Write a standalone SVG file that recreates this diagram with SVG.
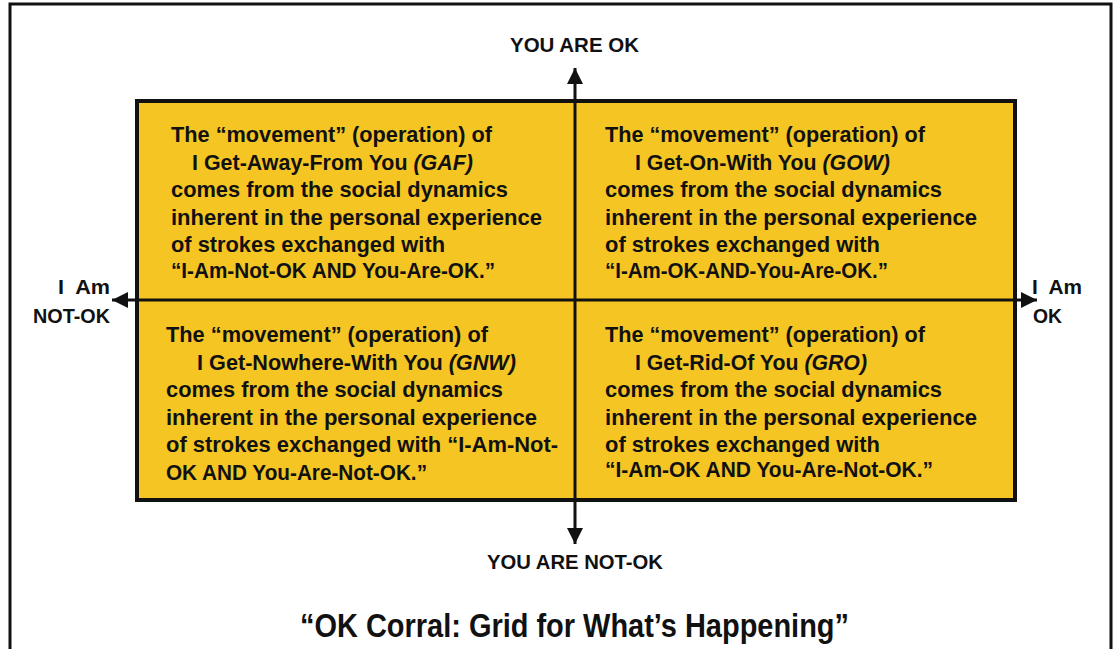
<svg xmlns="http://www.w3.org/2000/svg" width="1114" height="649" viewBox="0 0 1114 649">
<defs>
<style>
.t{font-family:"Liberation Sans Narrow","Liberation Sans",Arial,sans-serif;font-weight:bold;font-size:22px;fill:#111}
.ax{font-family:"Liberation Sans Narrow","Liberation Sans",Arial,sans-serif;font-weight:bold;font-size:21px;fill:#111}
.ti{font-family:"Liberation Sans Narrow","Liberation Sans",Arial,sans-serif;font-weight:bold;font-size:34px;fill:#111}
.axis{stroke:#111;stroke-width:3;fill:none}
</style>
<marker id="ah" viewBox="0 0 16 16" refX="16" refY="8" markerWidth="16" markerHeight="16" markerUnits="userSpaceOnUse" orient="auto-start-reverse">
<path d="M0,0 L16,8 L0,16 Z" fill="#111"/>
</marker>
</defs>
<rect x="0" y="0" width="1114" height="649" fill="#fff"/>
<rect id="frame" x="10" y="4" width="1101" height="680" fill="none" stroke="#111" stroke-width="3"/>
<rect id="grid" x="137" y="101" width="878" height="399" fill="#F5C623" stroke="#111" stroke-width="4"/>
<g id="connectors">
<line class="axis" x1="575" y1="68" x2="575" y2="544" marker-start="url(#ah)" marker-end="url(#ah)"/>
<line class="axis" x1="112" y1="300" x2="1037" y2="300" marker-start="url(#ah)" marker-end="url(#ah)"/>
</g>
<g id="label-top"><text class="ax" x="510" y="52" textLength="129" lengthAdjust="spacingAndGlyphs">YOU ARE OK</text></g>
<g id="label-bottom"><text class="ax" x="487" y="569" textLength="176" lengthAdjust="spacingAndGlyphs">YOU ARE NOT-OK</text></g>
<g id="label-left">
<text class="ax" x="58" y="294" textLength="52" lengthAdjust="spacingAndGlyphs" xml:space="preserve">I  Am</text>
<text class="ax" x="33" y="323" textLength="77" lengthAdjust="spacingAndGlyphs">NOT-OK</text>
</g>
<g id="label-right">
<text class="ax" x="1032" y="294" textLength="50" lengthAdjust="spacingAndGlyphs" xml:space="preserve">I  Am</text>
<text class="ax" x="1033" y="323" textLength="29" lengthAdjust="spacingAndGlyphs">OK</text>
</g>
<g id="q-gaf">
<text class="t" x="171" y="142" textLength="321" lengthAdjust="spacingAndGlyphs">The “movement” (operation) of</text>
<text class="t" x="192" y="170" textLength="281" lengthAdjust="spacingAndGlyphs">I Get-Away-From You <tspan font-style="italic">(GAF)</tspan></text>
<text class="t" x="171" y="197" textLength="337" lengthAdjust="spacingAndGlyphs">comes from the social dynamics</text>
<text class="t" x="171" y="225" textLength="371" lengthAdjust="spacingAndGlyphs">inherent in the personal experience</text>
<text class="t" x="171" y="252" textLength="274" lengthAdjust="spacingAndGlyphs">of strokes exchanged with</text>
<text class="t" x="171" y="278" textLength="324" lengthAdjust="spacingAndGlyphs">“I-Am-Not-OK AND You-Are-OK.”</text>
</g>
<g id="q-gow">
<text class="t" x="605" y="142" textLength="320" lengthAdjust="spacingAndGlyphs">The “movement” (operation) of</text>
<text class="t" x="635" y="170" textLength="255" lengthAdjust="spacingAndGlyphs">I Get-On-With You <tspan font-style="italic">(GOW)</tspan></text>
<text class="t" x="605" y="197" textLength="337" lengthAdjust="spacingAndGlyphs">comes from the social dynamics</text>
<text class="t" x="605" y="225" textLength="372" lengthAdjust="spacingAndGlyphs">inherent in the personal experience</text>
<text class="t" x="605" y="252" textLength="275" lengthAdjust="spacingAndGlyphs">of strokes exchanged with</text>
<text class="t" x="605" y="278" textLength="283" lengthAdjust="spacingAndGlyphs">“I-Am-OK-AND-You-Are-OK.”</text>
</g>
<g id="q-gnw">
<text class="t" x="166" y="342" textLength="322" lengthAdjust="spacingAndGlyphs">The “movement” (operation) of</text>
<text class="t" x="197" y="370" textLength="319" lengthAdjust="spacingAndGlyphs">I Get-Nowhere-With You <tspan font-style="italic">(GNW)</tspan></text>
<text class="t" x="166" y="397" textLength="337" lengthAdjust="spacingAndGlyphs">comes from the social dynamics</text>
<text class="t" x="166" y="425" textLength="371" lengthAdjust="spacingAndGlyphs">inherent in the personal experience</text>
<text class="t" x="166" y="452" textLength="392" lengthAdjust="spacingAndGlyphs">of strokes exchanged with “I-Am-Not-</text>
<text class="t" x="166" y="480" textLength="261" lengthAdjust="spacingAndGlyphs">OK AND You-Are-Not-OK.”</text>
</g>
<g id="q-gro">
<text class="t" x="605" y="342" textLength="320" lengthAdjust="spacingAndGlyphs">The “movement” (operation) of</text>
<text class="t" x="635" y="370" textLength="232" lengthAdjust="spacingAndGlyphs">I Get-Rid-Of You <tspan font-style="italic">(GRO)</tspan></text>
<text class="t" x="605" y="397" textLength="337" lengthAdjust="spacingAndGlyphs">comes from the social dynamics</text>
<text class="t" x="605" y="425" textLength="372" lengthAdjust="spacingAndGlyphs">inherent in the personal experience</text>
<text class="t" x="605" y="452" textLength="275" lengthAdjust="spacingAndGlyphs">of strokes exchanged with</text>
<text class="t" x="605" y="477" textLength="328" lengthAdjust="spacingAndGlyphs">“I-Am-OK AND You-Are-Not-OK.”</text>
</g>
<g id="title"><text class="ti" x="300" y="637" textLength="549" lengthAdjust="spacingAndGlyphs">“OK Corral: Grid for What’s Happening”</text></g>
</svg>
